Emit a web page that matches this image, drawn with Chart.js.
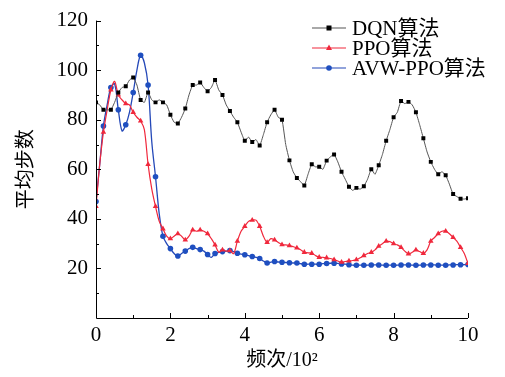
<!DOCTYPE html>
<html>
<head>
<meta charset="utf-8">
<script src="https://cdn.jsdelivr.net/npm/chart.js@4.4.0/dist/chart.umd.min.js"></script>
<style>
  html, body { margin: 0; padding: 0; background: #fff; }
  #wrap { width: 505px; height: 377px; }
</style>
</head>
<body>
<div id="wrap"><canvas id="myChart"></canvas></div>
<script>
// average steps per 100 episodes, sampled every 0.1 (x10^2)
const seriesNames = ['DQN算法', 'PPO算法', 'AVW-PPO算法'];

const dqnSteps = [
  87, 86, 84, 84, 84, 87, 91, 93, 93.5, 96,
  97, 94, 88, 87, 91, 88, 87, 88, 87, 86,
  82, 79, 78.5, 81, 84.5, 90, 94, 94, 95, 93,
  91.5, 93, 96, 92, 90, 86, 83.5, 81, 79, 75,
  71.5, 73, 71, 72, 69.6, 74, 79, 82, 84, 81,
  80, 70, 63.6, 59, 56.5, 55, 53.5, 58, 62, 61,
  61, 60, 63.5, 65, 66, 63, 59, 56, 53, 51.5,
  52.5, 52, 53.2, 56, 60, 58, 61.6, 66, 71.5, 76,
  81, 83, 87.6, 86.5, 87.2, 86, 83, 78, 72.5, 67,
  63, 60, 58, 59, 57.6, 54, 50, 49, 48.1, 48,
  48.3
];

const ppoSteps = [
  45, 62, 75, 84, 92, 95.5, 90, 88, 86.5, 86,
  83, 81, 79.5, 76, 62, 52, 45, 39, 36, 33,
  32, 33, 34, 33, 31.5, 33, 35.5, 35, 35.5, 35,
  34, 32, 29.5, 26.5, 27.5, 27, 27.2, 26, 31, 35,
  37, 39, 39.5, 39.5, 37, 33, 30.5, 32, 31.5, 30.5,
  29.6, 29.5, 29.2, 28.8, 28.3, 27.5, 26.5, 26.3, 26.1, 25.2,
  24.5, 24.5, 24.3, 24, 23.5, 23, 22.5, 22.8, 23, 23.2,
  23.5, 24.3, 25.2, 26, 26.5, 27.5, 29, 30, 31, 30.8,
  30, 29.5, 28.5, 27, 25.9, 26.5, 27.5, 26.8, 26.1, 27.5,
  31, 32.5, 34, 35, 35, 34, 32.5, 31, 28.5, 26,
  22
];

const avwPpoSteps = [
  47, 62, 77.5, 86, 93, 94.5, 84, 75.5, 78, 83,
  91, 100, 106, 103, 94, 71, 57, 42, 33, 30,
  28, 26, 25, 26, 27, 28, 28.5, 28, 27.6, 27,
  25.6, 24.5, 26, 26.5, 26.8, 27, 27.2, 26.8, 26.1, 25.8,
  25.5, 25.2, 24.8, 24.5, 24, 23, 22.2, 22.5, 22.8, 22.6,
  22.5, 22.4, 22.3, 22.2, 22.2, 21.9, 21.7, 21.7, 21.7, 21.7,
  21.7, 21.9, 22, 22.1, 22.1, 22, 21.8, 21.7, 21.5, 21.3,
  21.3, 21.3, 21.3, 21.3, 21.4, 21.4, 21.4, 21.3, 21.3, 21.3,
  21.3, 21.3, 21.4, 21.4, 21.4, 21.3, 21.3, 21.3, 21.4, 21.4,
  21.4, 21.4, 21.3, 21.3, 21.3, 21.4, 21.4, 21.5, 21.5, 21.5,
  21.6
];

const xTicks = [0, 2, 4, 6, 8, 10];
const yTicks = [20, 40, 60, 80, 100, 120];

const serif = '"Liberation Serif", "Noto Sans CJK SC", serif';

function toPoints(values) {
  return values.map((v, i) => ({ x: i / 10, y: v }));
}

// marker on every second sample
function markerEvery2(size) {
  return ctx => (ctx.dataIndex % 2 === 0 ? size : 0);
}

// inward tick marks + legend drawn by hand
const axisDeco = {
  id: 'axisDeco',
  afterDraw(chart) {
    const { ctx, chartArea: a, scales: { x, y } } = chart;
    ctx.save();
    ctx.strokeStyle = '#000';
    ctx.lineWidth = 1;
    ctx.beginPath();
    ctx.moveTo(a.left + 0.5, a.top);
    ctx.lineTo(a.left + 0.5, a.bottom + 0.5);
    ctx.lineTo(a.right, a.bottom + 0.5);
    ctx.stroke();

    ctx.beginPath();
    for (let v = 1; v <= 10; v++) {
      const px = Math.round(x.getPixelForValue(v)) + 0.5;
      const len = v % 2 === 0 ? 5 : 3;
      ctx.moveTo(px, a.bottom);
      ctx.lineTo(px, a.bottom - len);
    }
    for (let v = 10; v <= 120; v += 10) {
      const py = Math.round(y.getPixelForValue(v)) + 0.5;
      const len = v % 20 === 0 ? 5 : 3;
      ctx.moveTo(a.left, py);
      ctx.lineTo(a.left + len, py);
    }
    ctx.stroke();

    // legend
    const rowY = [28, 48, 68];
    chart.data.datasets.forEach((ds, i) => {
      const yy = rowY[i];
      ctx.strokeStyle = ds.borderColor;
      ctx.lineWidth = 1.2;
      ctx.beginPath();
      ctx.moveTo(312, yy);
      ctx.lineTo(346, yy);
      ctx.stroke();
      ctx.fillStyle = ds.pointBackgroundColor;
      const cx = 329;
      if (ds.pointStyle === 'rect') {
        ctx.fillRect(cx - 2.5, yy - 2.5, 5, 5);
      } else if (ds.pointStyle === 'triangle') {
        ctx.beginPath();
        ctx.moveTo(cx, yy - 3.5);
        ctx.lineTo(cx + 3, yy + 2);
        ctx.lineTo(cx - 3, yy + 2);
        ctx.closePath();
        ctx.fill();
      } else {
        ctx.beginPath();
        ctx.arc(cx, yy, 2.8, 0, Math.PI * 2);
        ctx.fill();
      }
      ctx.fillStyle = '#000';
      ctx.font = '21px ' + serif;
      ctx.textBaseline = 'middle';
      ctx.textAlign = 'left';
      ctx.fillText(ds.label, 352, yy + 1);
    });
    ctx.restore();
  }
};

const ctx = document.getElementById('myChart');

new Chart(ctx, {
  type: 'line',
  data: {
    datasets: [
      {
        label: seriesNames[0],
        data: toPoints(dqnSteps),
        borderColor: '#555',
        borderWidth: 1,
        pointStyle: 'rect',
        pointBackgroundColor: '#000',
        pointBorderColor: '#000',
        pointBorderWidth: 0,
        pointRadius: markerEvery2(2.8),
        tension: 0.15
      },
      {
        label: seriesNames[1],
        data: toPoints(ppoSteps),
        borderColor: '#f0283c',
        borderWidth: 1.2,
        pointStyle: 'triangle',
        pointBackgroundColor: '#f0283c',
        pointBorderColor: '#f0283c',
        pointBorderWidth: 0,
        pointRadius: markerEvery2(3.2),
        tension: 0.3
      },
      {
        label: seriesNames[2],
        data: toPoints(avwPpoSteps),
        borderColor: '#2448b8',
        borderWidth: 1.3,
        pointStyle: 'circle',
        pointBackgroundColor: '#1f4fc0',
        pointBorderColor: '#1f4fc0',
        pointBorderWidth: 0,
        pointRadius: markerEvery2(2.8),
        tension: 0.35
      }
    ]
  },
  options: {
    responsive: true,
    maintainAspectRatio: false,
    animation: false,
    layout: { padding: { left: 0, top: 17, right: 37, bottom: 0 } },
    plugins: {
      legend: { display: false },
      tooltip: { enabled: false }
    },
    scales: {
      x: {
        type: 'linear',
        min: 0,
        max: 10,
        border: { display: false },
        grid: { display: false, drawTicks: false },
        afterBuildTicks: s => { s.ticks = xTicks.map(v => ({ value: v })); },
        afterFit: s => { s.height = 59; },
        ticks: {
          color: '#000',
          padding: 5,
          maxRotation: 0,
          font: { family: serif, size: 21 }
        },
        title: {
          display: true,
          text: '频次/10²',
          color: '#000',
          padding: { top: 0 },
          font: { family: serif, size: 20 }
        }
      },
      y: {
        min: 0,
        max: 120,
        border: { display: false },
        grid: { display: false, drawTicks: false },
        afterBuildTicks: s => { s.ticks = yTicks.map(v => ({ value: v })); },
        afterFit: s => { s.width = 96; },
        ticks: {
          color: '#000',
          padding: 8,
          font: { family: serif, size: 21 }
        },
        title: {
          display: true,
          text: '平均步数',
          color: '#000',
          padding: { top: 15, bottom: 0 },
          font: { family: serif, size: 20 }
        }
      }
    }
  },
  plugins: [axisDeco]
});
</script>
</body>
</html>
